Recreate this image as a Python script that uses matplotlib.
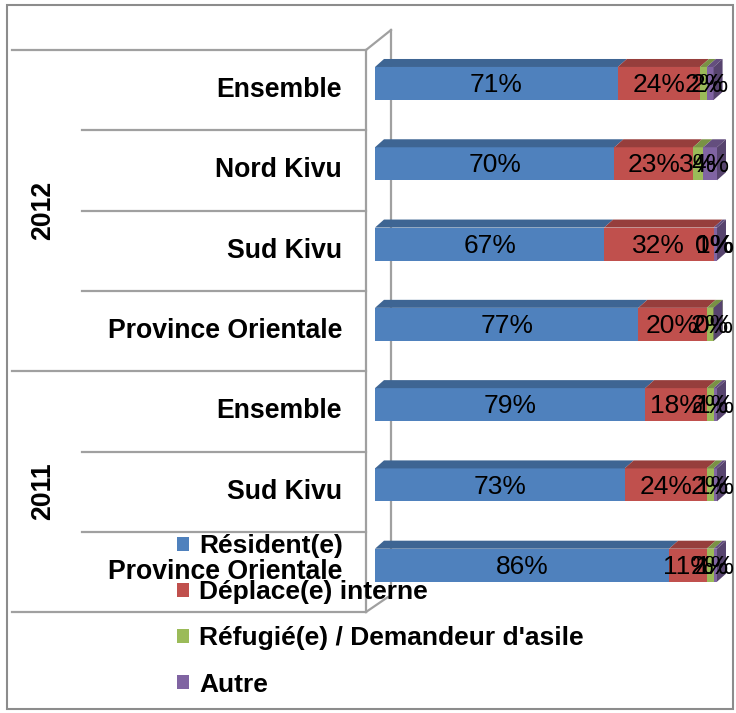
import matplotlib.pyplot as plt
from matplotlib.patches import Rectangle, Polygon, Patch
from matplotlib.lines import Line2D
from matplotlib.colors import to_rgb

plt.rcParams['font.family'] = ['Liberation Sans', 'DejaVu Sans']

# data (top row first)
categories = ['Ensemble', 'Nord Kivu', 'Sud Kivu', 'Province Orientale',
              'Ensemble', 'Sud Kivu', 'Province Orientale']
years = ['2012', '2011']
year_rows = [4, 3]
resident = [71, 70, 67, 77, 79, 73, 86]
deplace = [24, 23, 32, 20, 18, 24, 11]
refugie = [2, 3, 0, 2, 2, 2, 2]
autre = [2, 4, 1, 0, 1, 1, 1]
series_names = ['Résident(e)', 'Déplace(e) interne',
                'Réfugié(e) / Demandeur d\'asile', 'Autre']
colors = ['#4F81BD', '#C0504D', '#9BBB59', '#8064A2']

W, H = 736, 713
fig = plt.figure(figsize=(W / 100, H / 100), dpi=100)


def fx(x):
    return x / W


def fy(y):
    return 1 - y / H


def dark(c, f=0.75):
    r, g, b = to_rgb(c)
    return (r * f, g * f, b * f)


grey = '#A0A0A0'

# outer chart frame
fig.add_artist(Rectangle((fx(7), fy(709)), fx(726), (704) / H, fill=False,
                         edgecolor='#8C8C8C', lw=1.5, transform=fig.transFigure))


def hline(x0, x1, y, z=1):
    fig.add_artist(Line2D([fx(x0), fx(x1)], [fy(y), fy(y)], color=grey, lw=1.6,
                          transform=fig.transFigure, zorder=z))


# category grid on the left
row_edges = [50 + 80.3 * k for k in range(8)]
for k, y in enumerate(row_edges):
    start = 12 if k in (0, 4, 7) else 82
    hline(start, 366, y)

# 3D walls
for xs, ys in [([366, 366], [50, 612]), ([366, 391], [50, 30]),
               ([366, 388], [612, 597])]:
    fig.add_artist(Line2D([fx(v) for v in xs], [fy(v) for v in ys], color=grey,
                          lw=1.6, transform=fig.transFigure, zorder=1))
fig.add_artist(Line2D([fx(391), fx(391)], [fy(30), fy(597)], color=grey, lw=1.6,
                      transform=fig.transFigure, zorder=0))

# category labels
for i, name in enumerate(categories):
    yc = (row_edges[i] + row_edges[i + 1]) / 2
    fig.text(fx(342), fy(yc), name, ha='right', va='center', fontsize=19.2,
             fontweight='bold')
r0 = 0
for yr, n in zip(years, year_rows):
    yc = (row_edges[r0] + row_edges[r0 + n]) / 2
    fig.text(fx(43), fy(yc), yr, ha='center', va='center', rotation=90,
             fontsize=19.2, fontweight='bold')
    r0 += n

# bar axes: x 0..100 maps to px 375..717, rows span px 50..612
ax = fig.add_axes([fx(375), fy(612), (717 - 375) / W, 562 / H])
ax.set_zorder(2)
ax.patch.set_visible(False)
ax.set_xlim(0, 100)
ax.set_ylim(6.5, -0.5)
ax.axis('off')

h = 33 / 80.3
dx = 9 / 342 * 100
dy = 8 / 80.3
shift = 0.083
series = [resident, deplace, refugie, autre]
n = len(categories)
lefts = [0] * n
for s, vals in enumerate(series):
    for i in range(n):
        y = i - shift
        l, v = lefts[i], vals[i]
        ax.barh(y, v, left=l, height=h, color=colors[s], edgecolor='none')
        top = Polygon([(l, y - h / 2), (l + dx, y - h / 2 - dy),
                       (l + v + dx, y - h / 2 - dy), (l + v, y - h / 2)],
                      closed=True, facecolor=dark(colors[s], 0.78),
                      edgecolor='none', clip_on=False)
        ax.add_patch(top)
        if s == len(series) - 1 or all(series[k][i] == 0 for k in range(s + 1, len(series))):
            r = l + v
            side = Polygon([(r, y - h / 2), (r + dx, y - h / 2 - dy),
                            (r + dx, y + h / 2 - dy), (r, y + h / 2)],
                           closed=True, facecolor=dark(colors[s], 0.68),
                           edgecolor='none', clip_on=False)
            ax.add_patch(side)
        lefts[i] = l + v
for s, vals in enumerate(series):
    base = [sum(series[k][i] for k in range(s)) for i in range(n)]
    for i in range(n):
        ax.text(base[i] + vals[i] / 2, i - shift + 0.02, '%d%%' % vals[i],
                ha='center', va='center', fontsize=19, color='black', zorder=5,
                clip_on=False)

handles = [Patch(facecolor=c, edgecolor='none') for c in colors]
leg = fig.legend(handles, series_names, loc='upper left',
                 bbox_to_anchor=(fx(177), fy(534)), frameon=False,
                 prop={'size': 19, 'weight': 'bold'}, handlelength=0.45,
                 handleheight=0.45, handletextpad=0.4, labelspacing=0.84,
                 borderpad=0, borderaxespad=0)
leg.set_zorder(10)

fig.savefig('out.png', dpi=100)
